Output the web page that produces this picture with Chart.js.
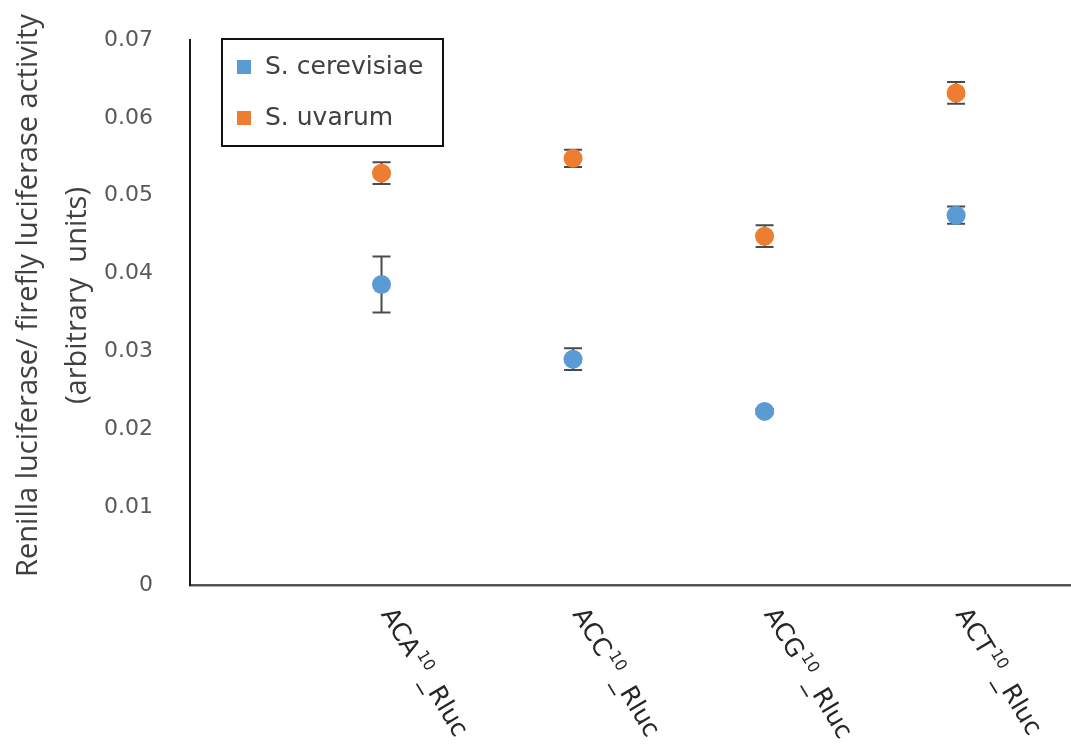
<!DOCTYPE html>
<html>
<head>
<meta charset="utf-8">
<script src="https://cdn.jsdelivr.net/npm/chart.js@4.4.0/dist/chart.umd.min.js"></script>
<style>
  html, body { margin: 0; padding: 0; background: #ffffff; overflow: hidden; }
  #wrap { width: 1071px; height: 749px; }
  canvas { display: block; }
</style>
</head>
<body>
<div id="wrap"><canvas id="chart" width="1071" height="749"></canvas></div>
<script>
// Reporter constructs on the x axis
const codons = ['ACA', 'ACC', 'ACG', 'ACT'];
const repeatCount = '10';
const reporterSuffix = '_Rluc';

// Series
const seriesNames = ['S. cerevisiae', 'S. uvarum'];
const cerevisiaeMean = [0.0386, 0.0290, 0.0223, 0.0475];
const cerevisiaeErr  = [0.0036, 0.0014, 0.0003, 0.0011];
const uvarumMean     = [0.0529, 0.0548, 0.0448, 0.0632];
const uvarumErr      = [0.0014, 0.0011, 0.0014, 0.0014];

// Y axis
const yTickValues = [0, 0.01, 0.02, 0.03, 0.04, 0.05, 0.06, 0.07];
const yTickLabels = ['0', '0.01', '0.02', '0.03', '0.04', '0.05', '0.06', '0.07'];
const yTitleLines = ['Renilla luciferase/ firefly luciferase activity', '(arbitrary  units)'];

const BLUE = '#5B9BD5';
const ORANGE = '#ED7D31';

function points(means, errs) {
  return codons.map((c, i) => ({ x: i + 1, y: means[i], err: errs[i] }));
}

// Vertical error bars with caps, drawn under the markers
const errorBars = {
  id: 'errorBars',
  beforeDatasetsDraw(chart) {
    const { ctx, scales: { x, y } } = chart;
    ctx.save();
    ctx.strokeStyle = '#4a4a4a';
    ctx.lineWidth = 2;
    chart.data.datasets.forEach(ds => {
      ds.data.forEach(p => {
        const px = x.getPixelForValue(p.x);
        const top = y.getPixelForValue(p.y + p.err);
        const bot = y.getPixelForValue(p.y - p.err);
        ctx.beginPath();
        ctx.moveTo(px, top); ctx.lineTo(px, bot);
        ctx.moveTo(px - 9, top); ctx.lineTo(px + 9, top);
        ctx.moveTo(px - 9, bot); ctx.lineTo(px + 9, bot);
        ctx.stroke();
      });
    });
    ctx.restore();
  }
};

// Two-line rotated y axis title
const yAxisTitle = {
  id: 'yAxisTitle',
  afterDraw(chart) {
    const { ctx, chartArea } = chart;
    const cy = (chartArea.top + chartArea.bottom) / 2 - 17;
    ctx.save();
    ctx.fillStyle = '#404040';
    ctx.font = '29px "Open Sans"';
    ctx.textAlign = 'center';
    ctx.textBaseline = 'middle';
    yTitleLines.forEach((line, i) => {
      ctx.save();
      ctx.translate(29 + i * 49, cy);
      ctx.rotate(-Math.PI / 2);
      ctx.fillText(line, 0, 0);
      ctx.restore();
    });
    ctx.restore();
  }
};

// Slanted category labels with a superscript repeat count
const slantedLabels = {
  id: 'slantedLabels',
  afterDraw(chart) {
    const { ctx, scales: { x } } = chart;
    const mainFont = '25px "DejaVu Sans"';
    const supFont = '16px "DejaVu Sans"';
    ctx.save();
    ctx.fillStyle = '#262626';
    codons.forEach((codon, i) => {
      const px = x.getPixelForValue(i + 1);
      ctx.save();
      ctx.translate(px - 1, x.top + 29);
      ctx.rotate(59 * Math.PI / 180);
      ctx.textAlign = 'left';
      ctx.textBaseline = 'alphabetic';
      ctx.font = mainFont;
      ctx.fillText(codon, 0, 0);
      let off = ctx.measureText(codon).width + 2;
      ctx.font = supFont;
      ctx.fillText(repeatCount, off, -10);
      off += ctx.measureText(repeatCount).width + 5;
      ctx.font = mainFont;
      ctx.fillText(reporterSuffix, off, 0);
      ctx.restore();
    });
    ctx.restore();
  }
};

// Boxed legend in the upper left of the plot
const boxedLegend = {
  id: 'boxedLegend',
  afterDraw(chart) {
    const { ctx, chartArea } = chart;
    const bx = chartArea.left + 32, by = chartArea.top - 1, bw = 221, bh = 107;
    ctx.save();
    ctx.fillStyle = '#ffffff';
    ctx.fillRect(bx, by, bw, bh);
    ctx.strokeStyle = '#111111';
    ctx.lineWidth = 2;
    ctx.strokeRect(bx, by, bw, bh);
    ctx.font = '25px "DejaVu Sans"';
    ctx.textBaseline = 'middle';
    ctx.textAlign = 'left';
    chart.data.datasets.forEach((ds, i) => {
      const cy = by + 28 + i * 51;
      ctx.fillStyle = ds.backgroundColor;
      ctx.fillRect(bx + 15, cy - 7, 14, 14);
      ctx.fillStyle = '#404040';
      ctx.fillText(ds.label, bx + 43, cy);
    });
    ctx.restore();
  }
};

new Chart(document.getElementById('chart'), {
  type: 'scatter',
  data: {
    datasets: [
      { label: seriesNames[0], data: points(cerevisiaeMean, cerevisiaeErr),
        backgroundColor: BLUE, borderWidth: 0, pointRadius: 9.5 },
      { label: seriesNames[1], data: points(uvarumMean, uvarumErr),
        backgroundColor: ORANGE, borderWidth: 0, pointRadius: 9.5 }
    ]
  },
  options: {
    responsive: false,
    animation: false,
    events: [],
    layout: { autoPadding: false, padding: { left: 0, top: 40, right: 0, bottom: 0 } },
    plugins: { legend: { display: false }, tooltip: { enabled: false } },
    scales: {
      x: {
        type: 'linear',
        min: 0,
        max: 4.6,
        grid: { display: false, drawTicks: false },
        border: { display: true, color: '#555555', width: 2.5 },
        ticks: { display: false },
        afterFit(scale) { scale.height = 164; }
      },
      y: {
        type: 'linear',
        min: 0,
        max: 0.07,
        grid: { display: false, drawTicks: false },
        border: { display: true, color: '#1a1a1a', width: 2 },
        afterBuildTicks(scale) { scale.ticks = yTickValues.map(v => ({ value: v })); },
        ticks: {
          padding: 37,
          color: '#595959',
          font: { family: 'DejaVu Sans', size: 22 },
          callback: (v, i) => yTickLabels[i]
        },
        afterFit(scale) {
          scale.width = 190;
          scale.paddingTop = 0;
          scale.paddingBottom = 0;
        }
      }
    }
  },
  plugins: [errorBars, yAxisTitle, slantedLabels, boxedLegend]
});
</script>
</body>
</html>
